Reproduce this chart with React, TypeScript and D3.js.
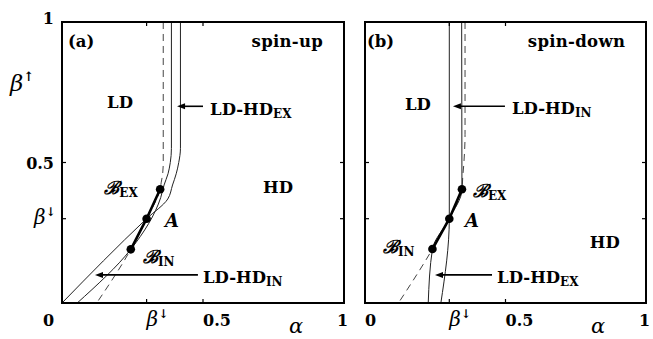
import React from 'react';
import * as d3 from 'd3';

const W = 653;
const H = 339;
const betaDown = 0.3;

// phase boundaries as [alpha, beta] pairs
// (a) spin-up
const upOuter = [[0.42, 1], [0.42, 0.55], [0.414, 0.5], [0.405, 0.46], [0.392, 0.42], [0.375, 0.37], [0.3, 0.3], [0, 0]];
const upMiddle = [[0.388, 1], [0.388, 0.55], [0.384, 0.5], [0.376, 0.46], [0.362, 0.42], [0.35, 0.375], [0.244, 0.191], [0.054, 0]];
const upDashed = [[0.359, 1], [0.359, 0.5], [0.357, 0.46], [0.352, 0.43], [0.348, 0.405], [0.3, 0.3], [0.244, 0.191], [0.123, 0]];
const upThick = [[0.348, 0.405], [0.3, 0.3], [0.244, 0.191]];

// (b) spin-down
const downLeft = [[0.3, 1], [0.3, 0.3], [0.27, 0]];
const downRight = [[0.344, 1], [0.345, 0.405], [0.3, 0.3], [0.24, 0.192], [0.225, 0]];
const downDashed = [[0.356, 1], [0.356, 0.6], [0.352, 0.5], [0.348, 0.45], [0.345, 0.405], [0.3, 0.3], [0.24, 0.192], [0.119, 0]];
const downThick = [[0.345, 0.405], [0.3, 0.3], [0.24, 0.192]];

const xTicks = [0, betaDown, 0.5, 1];
const yTicks = [betaDown, 0.5, 1];
const xTickLabels = ['0', 'β↓', '0.5', '1'];
const yTickLabels = ['β↓', '0.5', '1'];

// text annotations: [alpha, beta, main, subscript, kind]
const upNotes = [
  [0.021, 0.911, '(a)', '', 'b'],
  [0.16, 0.694, 'LD', '', 'b'],
  [0.525, 0.669, 'LD-HD', 'EX', 'b'],
  [0.713, 0.391, 'HD', '', 'b'],
  [0.15, 0.388, 'ℬ', 'EX', 'c'],
  [0.365, 0.27, 'A', '', 'c'],
  [0.287, 0.142, 'ℬ', 'IN', 'c'],
  [0.5, 0.071, 'LD-HD', 'IN', 'b'],
];
const downNotes = [
  [0.007, 0.911, '(b)', '', 'b'],
  [0.142, 0.687, 'LD', '', 'b'],
  [0.523, 0.672, 'LD-HD', 'IN', 'b'],
  [0.8, 0.196, 'HD', '', 'b'],
  [0.384, 0.377, 'ℬ', 'EX', 'c'],
  [0.356, 0.27, 'A', '', 'c'],
  [0.064, 0.178, 'ℬ', 'IN', 'c'],
  [0.47, 0.071, 'LD-HD', 'EX', 'b'],
];
// arrows: [fromAlpha, toAlpha, beta]
const upArrows = [[0.5, 0.408, 0.7], [0.482, 0.117, 0.1]];
const downArrows = [[0.498, 0.313, 0.7], [0.452, 0.249, 0.1]];

const serif = '"DejaVu Serif", serif';

function Panel({ x0, x1, y0, y1, thin, dashed, thick, notes, arrows, title, yLabels }) {
  const x = d3.scaleLinear().domain([0, 1]).range([x0, x1]);
  const y = d3.scaleLinear().domain([0, 1]).range([y1, y0]);
  const line = d3.line().x(d => x(d[0])).y(d => y(d[1])).curve(d3.curveMonotoneY);
  const straight = d3.line().x(d => x(d[0])).y(d => y(d[1]));
  const tk = 4;
  return (
    <g>
      <path d={line(dashed)} fill="none" stroke="#444" strokeWidth={1} strokeDasharray="7,5" />
      {thin.map((c, i) => (
        <path key={i} d={line(c)} fill="none" stroke="#222" strokeWidth={1} />
      ))}
      <path d={straight(thick)} fill="none" stroke="#000" strokeWidth={2.6} />
      {thick.map((p, i) => (
        <circle key={i} cx={x(p[0])} cy={y(p[1])} r={4.3} fill="#000" />
      ))}
      <rect x={x0} y={y0} width={x1 - x0} height={y1 - y0} fill="none" stroke="#000" strokeWidth={2} />
      {xTicks.filter(v => v > 0 && v < 1).map(v => (
        <g key={'x' + v}>
          <line x1={x(v)} x2={x(v)} y1={y1} y2={y1 - tk} stroke="#000" strokeWidth={1.2} />
          <line x1={x(v)} x2={x(v)} y1={y0} y2={y0 + tk} stroke="#000" strokeWidth={1.2} />
        </g>
      ))}
      {yTicks.filter(v => v > 0 && v < 1).map(v => (
        <g key={'y' + v}>
          <line x1={x0} x2={x0 + tk} y1={y(v)} y2={y(v)} stroke="#000" strokeWidth={1.2} />
          <line x1={x1} x2={x1 - tk} y1={y(v)} y2={y(v)} stroke="#000" strokeWidth={1.2} />
        </g>
      ))}
      {xTicks.map((v, i) => {
        const lab = xTickLabels[i];
        const dx = v === 0 ? (yLabels ? -19 : 0) : v === 1 ? -7 : 0;
        if (lab.startsWith('β')) {
          return (
            <text key={'xl' + i} x={x(v)} y={326} fontFamily={serif} fontSize={20} fontStyle="italic">
              β<tspan fontSize={12} dy={-8} fontStyle="normal" fontWeight="bold">↓</tspan>
            </text>
          );
        }
        return (
          <text key={'xl' + i} x={x(v) + dx} y={326} fontFamily={serif} fontSize={16} fontWeight="bold">{lab}</text>
        );
      })}
      {yLabels && yTicks.map((v, i) => {
        const lab = yTickLabels[i];
        if (lab.startsWith('β')) {
          return (
            <text key={'yl' + i} x={x0 - 28} y={y(v) + 5} fontFamily={serif} fontSize={20} fontStyle="italic">
              β<tspan fontSize={12} dy={-8} fontStyle="normal" fontWeight="bold">↓</tspan>
            </text>
          );
        }
        return (
          <text key={'yl' + i} x={x0 - 8} y={y(v) + (v === 1 ? 2 : 6)} textAnchor="end" fontFamily={serif} fontSize={16} fontWeight="bold">{lab}</text>
        );
      })}
      {yLabels && (
        <text x={10} y={91} fontFamily={serif} fontSize={23} fontStyle="italic">
          β<tspan fontSize={13} dy={-10} fontStyle="normal" fontWeight="bold">↑</tspan>
        </text>
      )}
      <text x={x1 - 55} y={333} fontFamily={serif} fontSize={21} fontStyle="italic">α</text>
      <text x={x(0.926)} y={y(0.911)} textAnchor="end" fontFamily={serif} fontSize={16.5} fontWeight="bold" letterSpacing={0.3}>{title}</text>
      {notes.map((n, i) => (
        <text key={'n' + i} x={x(n[0])} y={y(n[1])} fontFamily={serif}
          fontSize={n[4] === 'c' ? 18 : 16.5} fontWeight="bold" fontStyle={n[4] === 'c' ? 'italic' : 'normal'}>
          {n[2]}
          {n[3] && <tspan fontSize={12} dy={3} fontStyle="normal">{n[3]}</tspan>}
        </text>
      ))}
      {arrows.map((a, i) => {
        const xa = x(a[1]);
        const ya = y(a[2]);
        return (
          <g key={'a' + i}>
            <line x1={x(a[0])} x2={xa + 4} y1={ya} y2={ya} stroke="#000" strokeWidth={1.6} />
            <path d={`M${xa},${ya}L${xa + 8},${ya - 3}L${xa + 8},${ya + 3}Z`} fill="#000" />
          </g>
        );
      })}
    </g>
  );
}

export default function App() {
  return (
    <svg width={W} height={H} style={{ position: 'absolute', left: 0, top: 0, background: '#fff' }}>
      <rect width={W} height={H} fill="#fff" />
      <Panel x0={62} x1={344} y0={22} y1={303}
        thin={[upOuter, upMiddle]} dashed={upDashed} thick={upThick}
        notes={upNotes} arrows={upArrows} title="spin-up" yLabels={true} />
      <Panel x0={365} x1={646} y0={22} y1={303}
        thin={[downLeft, downRight]} dashed={downDashed} thick={downThick}
        notes={downNotes} arrows={downArrows} title="spin-down" yLabels={false} />
    </svg>
  );
}
